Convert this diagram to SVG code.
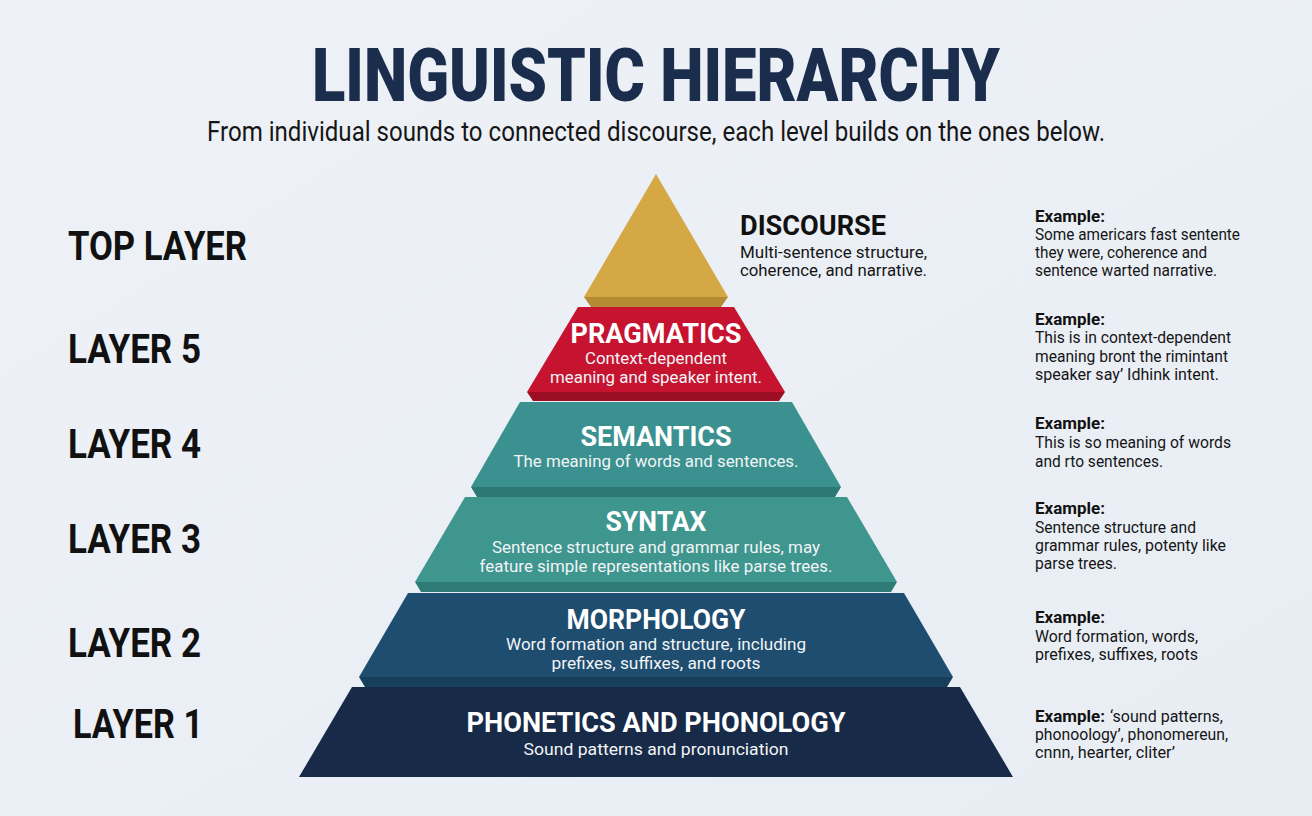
<svg xmlns="http://www.w3.org/2000/svg" width="1312" height="816" viewBox="0 0 1312 816">
  <defs>
    <linearGradient id="bg" x1="0" y1="0" x2="1" y2="1">
      <stop offset="0" stop-color="#EEF2F7"/>
      <stop offset="1" stop-color="#E8EDF4"/>
    </linearGradient>
    <style>
      .title{font-family:Roboto,"Liberation Sans",sans-serif;font-weight:900;fill:#1B2D4D}
      .sub{font-family:Roboto,"Liberation Sans",sans-serif;font-weight:400;fill:#151515}
      .lbl{font-family:Roboto,"Liberation Sans",sans-serif;font-weight:700;fill:#111111;font-size:40px}
      .head{font-family:Roboto,"Liberation Sans",sans-serif;font-weight:700;fill:#FFFFFF;font-size:28px;text-anchor:middle}
      .desc{font-family:Roboto,"Liberation Sans",sans-serif;font-weight:400;fill:#F2F4F6;font-size:17px;text-anchor:middle}
      .dhead{font-family:Roboto,"Liberation Sans",sans-serif;font-weight:700;fill:#111111;font-size:28px}
      .ddesc{font-family:Roboto,"Liberation Sans",sans-serif;font-weight:400;fill:#151515;font-size:17px}
      .exh{font-family:Roboto,"Liberation Sans",sans-serif;font-weight:700;fill:#111111;font-size:17px}
      .ex{font-family:Roboto,"Liberation Sans",sans-serif;font-weight:400;fill:#151515;font-size:16px}
    </style>
  </defs>
  <rect x="0" y="0" width="1312" height="816" fill="url(#bg)"/>

  <g id="title">
    <text class="title" x="656" y="101" font-size="75" text-anchor="middle" textLength="688" lengthAdjust="spacingAndGlyphs">LINGUISTIC HIERARCHY</text>
    <text class="sub" x="656" y="141" font-size="27" text-anchor="middle" textLength="898" lengthAdjust="spacingAndGlyphs">From individual sounds to connected discourse, each level builds on the ones below.</text>
  </g>

  <g id="layer-labels">
    <text class="lbl" x="68" y="260" textLength="179" lengthAdjust="spacingAndGlyphs">TOP LAYER</text>
    <text class="lbl" x="68" y="363" textLength="133" lengthAdjust="spacingAndGlyphs">LAYER 5</text>
    <text class="lbl" x="68" y="458" textLength="133" lengthAdjust="spacingAndGlyphs">LAYER 4</text>
    <text class="lbl" x="68" y="553" textLength="133" lengthAdjust="spacingAndGlyphs">LAYER 3</text>
    <text class="lbl" x="68" y="657" textLength="133" lengthAdjust="spacingAndGlyphs">LAYER 2</text>
    <text class="lbl" x="73" y="738" textLength="130" lengthAdjust="spacingAndGlyphs">LAYER 1</text>
  </g>

  <g id="connectors"/>

  <g id="discourse">
    <polygon points="656,174 728,297 584,297" fill="#D4A945"/>
    <polygon points="584,297 728,297 721,307 591,307" fill="#B48B33"/>
    <text class="dhead" x="740" y="235" textLength="146" lengthAdjust="spacingAndGlyphs">DISCOURSE</text>
    <text class="ddesc" x="740" y="258" textLength="187" lengthAdjust="spacingAndGlyphs">Multi-sentence structure,</text>
    <text class="ddesc" x="740" y="276" textLength="187" lengthAdjust="spacingAndGlyphs">coherence, and narrative.</text>
  </g>

  <g id="pragmatics">
    <polygon points="578,307 734,307 785,392 527,392" fill="#C61330"/>
    <polygon points="527,392 785,392 779,401 533,401" fill="#9C0E24"/>
    <text class="head" x="656" y="343" textLength="171" lengthAdjust="spacingAndGlyphs">PRAGMATICS</text>
    <text class="desc" x="656" y="364" textLength="142" lengthAdjust="spacingAndGlyphs">Context-dependent</text>
    <text class="desc" x="656" y="383" textLength="212" lengthAdjust="spacingAndGlyphs">meaning and speaker intent.</text>
  </g>

  <g id="semantics">
    <polygon points="520,402 792,402 841,487 471,487" fill="#3A918F"/>
    <polygon points="471,487 841,487 835,497 477,497" fill="#2D7775"/>
    <text class="head" x="656" y="446" textLength="151" lengthAdjust="spacingAndGlyphs">SEMANTICS</text>
    <text class="desc" x="656" y="467" textLength="285" lengthAdjust="spacingAndGlyphs">The meaning of words and sentences.</text>
  </g>

  <g id="syntax">
    <polygon points="465,497 847,497 897,582 415,582" fill="#3E968F"/>
    <polygon points="415,582 897,582 891,592 421,592" fill="#2E7A76"/>
    <text class="head" x="656" y="531" textLength="101" lengthAdjust="spacingAndGlyphs">SYNTAX</text>
    <text class="desc" x="656" y="553" textLength="328" lengthAdjust="spacingAndGlyphs">Sentence structure and grammar rules, may</text>
    <text class="desc" x="656" y="572" textLength="353" lengthAdjust="spacingAndGlyphs">feature simple representations like parse trees.</text>
  </g>

  <g id="morphology">
    <polygon points="408,593 904,593 953,677 359,677" fill="#1E4D6F"/>
    <polygon points="359,677 953,677 947,687 365,687" fill="#173E5A"/>
    <text class="head" x="656" y="629" textLength="179" lengthAdjust="spacingAndGlyphs">MORPHOLOGY</text>
    <text class="desc" x="656" y="650" textLength="300" lengthAdjust="spacingAndGlyphs">Word formation and structure, including</text>
    <text class="desc" x="656" y="669" textLength="209" lengthAdjust="spacingAndGlyphs">prefixes, suffixes, and roots</text>
  </g>

  <g id="phonetics">
    <polygon points="352,687 960,687 1013,777 299,777" fill="#172A48"/>
    <text class="head" x="656" y="732" textLength="379" lengthAdjust="spacingAndGlyphs">PHONETICS AND PHONOLOGY</text>
    <text class="desc" x="656" y="755" textLength="265" lengthAdjust="spacingAndGlyphs">Sound patterns and pronunciation</text>
  </g>

  <g id="examples">
    <text class="exh" x="1035" y="222" textLength="70" lengthAdjust="spacingAndGlyphs">Example:</text>
    <text class="ex" x="1035" y="240" textLength="205" lengthAdjust="spacingAndGlyphs">Some americars fast sentente</text>
    <text class="ex" x="1035" y="258" textLength="172" lengthAdjust="spacingAndGlyphs">they were, coherence and</text>
    <text class="ex" x="1035" y="276" textLength="182" lengthAdjust="spacingAndGlyphs">sentence warted narrative.</text>

    <text class="exh" x="1035" y="325" textLength="70" lengthAdjust="spacingAndGlyphs">Example:</text>
    <text class="ex" x="1035" y="343" textLength="196" lengthAdjust="spacingAndGlyphs">This is in context-dependent</text>
    <text class="ex" x="1035" y="362" textLength="193" lengthAdjust="spacingAndGlyphs">meaning bront the rimintant</text>
    <text class="ex" x="1035" y="380" textLength="184" lengthAdjust="spacingAndGlyphs">speaker say’ Idhink intent.</text>

    <text class="exh" x="1035" y="429" textLength="70" lengthAdjust="spacingAndGlyphs">Example:</text>
    <text class="ex" x="1035" y="448" textLength="196" lengthAdjust="spacingAndGlyphs">This is so meaning of words</text>
    <text class="ex" x="1035" y="467" textLength="128" lengthAdjust="spacingAndGlyphs">and rto sentences.</text>

    <text class="exh" x="1035" y="514" textLength="70" lengthAdjust="spacingAndGlyphs">Example:</text>
    <text class="ex" x="1035" y="533" textLength="161" lengthAdjust="spacingAndGlyphs">Sentence structure and</text>
    <text class="ex" x="1035" y="551" textLength="191" lengthAdjust="spacingAndGlyphs">grammar rules, potenty like</text>
    <text class="ex" x="1035" y="569" textLength="82" lengthAdjust="spacingAndGlyphs">parse trees.</text>

    <text class="exh" x="1035" y="623" textLength="70" lengthAdjust="spacingAndGlyphs">Example:</text>
    <text class="ex" x="1035" y="642" textLength="163" lengthAdjust="spacingAndGlyphs">Word formation, words,</text>
    <text class="ex" x="1035" y="660" textLength="163" lengthAdjust="spacingAndGlyphs">prefixes, suffixes, roots</text>

    <text class="exh" x="1035" y="722" textLength="70" lengthAdjust="spacingAndGlyphs">Example:</text>
    <text class="ex" x="1110" y="722" textLength="113" lengthAdjust="spacingAndGlyphs">‘sound patterns,</text>
    <text class="ex" x="1035" y="740" textLength="193" lengthAdjust="spacingAndGlyphs">phonoology’, phonomereun,</text>
    <text class="ex" x="1035" y="758" textLength="140" lengthAdjust="spacingAndGlyphs">cnnn, hearter, cliter’</text>
  </g>
</svg>
